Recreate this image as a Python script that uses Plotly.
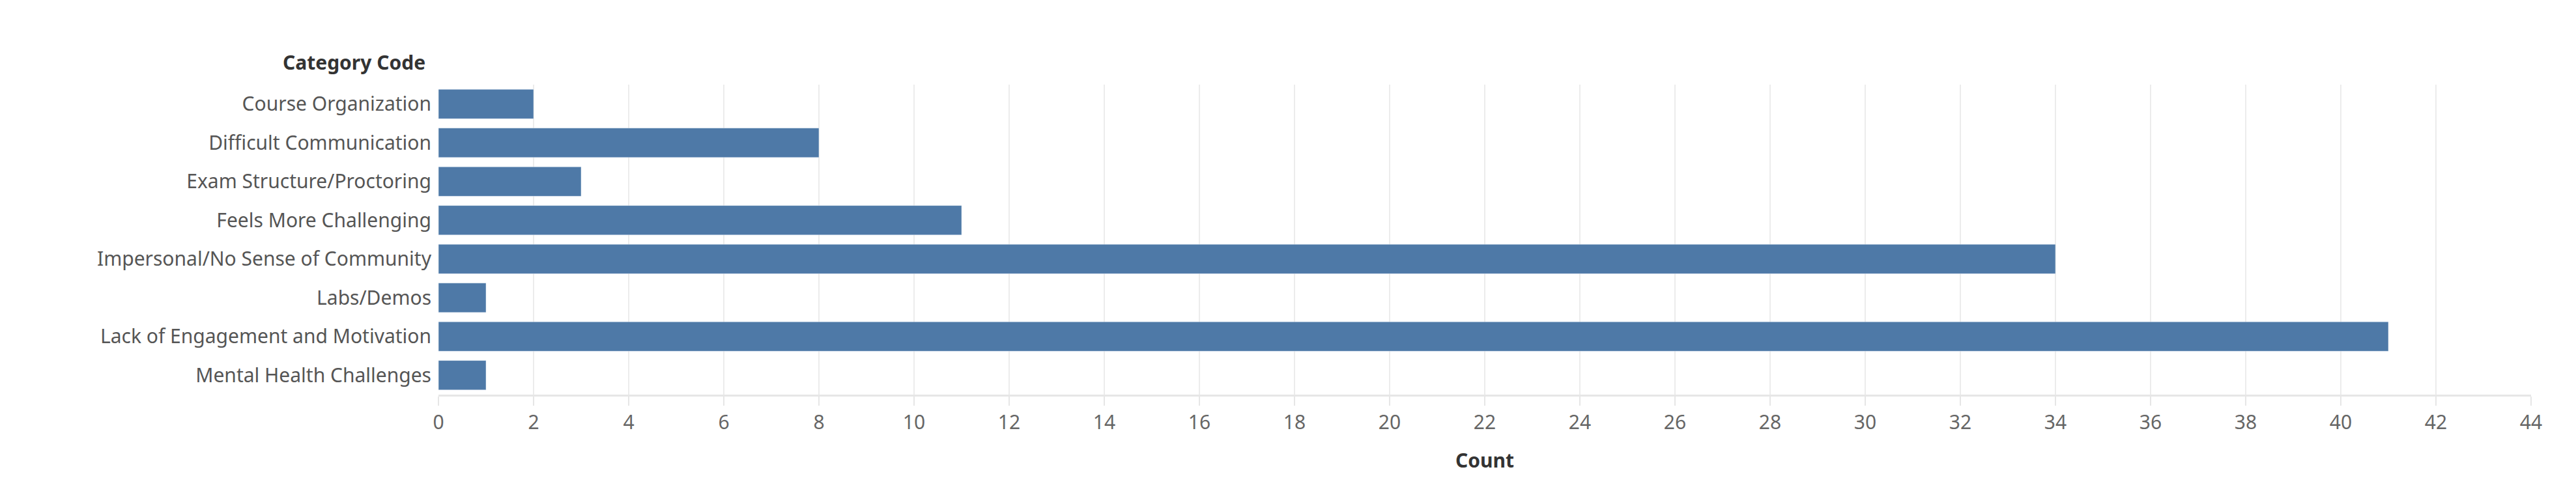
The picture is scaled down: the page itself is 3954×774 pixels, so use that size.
import plotly.graph_objects as go

categories = ["Course Organization", "Difficult Communication", "Exam Structure/Proctoring",
              "Feels More Challenging", "Impersonal/No Sense of Community", "Labs/Demos",
              "Lack of Engagement and Motivation", "Mental Health Challenges"]
counts = [2, 8, 3, 11, 34, 1, 41, 1]
tick_vals = list(range(0, 45, 2))

FONT = "Liberation Sans Narrow, Noto Sans, sans-serif"
fig = go.Figure(go.Bar(y=categories, x=counts, orientation="h", marker_color="#4e79a7",
                       width=0.76))
fig.update_layout(
    width=3954, height=774, plot_bgcolor="white", paper_bgcolor="white",
    margin=dict(l=665, r=77, t=122, b=176),
    font=dict(family=FONT, size=30, color="#555555"),
    showlegend=False,
    xaxis=dict(range=[0, 44], tickvals=tick_vals, showgrid=True, gridcolor="#ececec", gridwidth=2,
               zeroline=False, showline=True, linecolor="#e6e6e6", linewidth=3,
               ticks="outside", tickcolor="#e6e6e6", ticklen=14, tickwidth=2,
               tickfont=dict(size=30, color="#666666"),
               title=dict(text="<b>Count</b>", font=dict(size=30, color="#333333"), standoff=30)),
    yaxis=dict(autorange="reversed", showgrid=False, ticks="", ticklabelstandoff=10,
               tickfont=dict(size=30, color="#555555")),
    annotations=[dict(text="<b>Category Code</b>", xref="paper", yref="paper", x=0, y=1,
                      xanchor="right", yanchor="bottom", xshift=-18, yshift=12, showarrow=False,
                      font=dict(size=30, color="#333333", family=FONT))],
)
fig.write_html("out.html")
